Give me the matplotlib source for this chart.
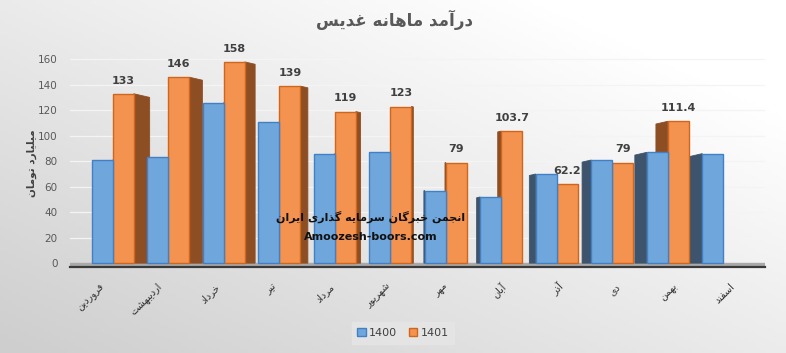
import numpy as np
import matplotlib
matplotlib.use("Agg")
import matplotlib.pyplot as plt
from matplotlib.patches import Polygon

# ---------------- data ----------------
title = "درآمد ماهانه غدیس"
y_label = "میلیارد تومان"
months = ["فروردین", "اردیبهشت", "خرداد", "تیر", "مرداد", "شهریور",
          "مهر", "آبان", "آذر", "دی", "بهمن", "اسفند"]
series_names = ["1400", "1401"]
values_1400 = [81, 83, 126, 111, 86, 87, 57, 52, 70, 81, 87, 86]
values_1401 = [133, 146, 158, 139, 119, 123, 79, 103.7, 62.2, 79, 111.4, np.nan]
labels_1401 = ["133", "146", "158", "139", "119", "123", "79", "103.7", "62.2", "79", "111.4", ""]
watermark_1 = "انجمن خبرگان سرمایه گذاری ایران"
watermark_2 = "Amoozesh-boors.com"
y_ticks = [0, 20, 40, 60, 80, 100, 120, 140, 160]

# ---------------- minimal Arabic/Persian shaping ----------------
FORMS = {
    'ا': (0xFE8D, 0xFE8E, None, None),
    'آ': (0xFE81, 0xFE82, None, None),
    'ب': (0xFE8F, 0xFE90, 0xFE91, 0xFE92),
    'ت': (0xFE95, 0xFE96, 0xFE97, 0xFE98),
    'ج': (0xFE9D, 0xFE9E, 0xFE9F, 0xFEA0),
    'خ': (0xFEA5, 0xFEA6, 0xFEA7, 0xFEA8),
    'د': (0xFEA9, 0xFEAA, None, None),
    'ذ': (0xFEAB, 0xFEAC, None, None),
    'ر': (0xFEAD, 0xFEAE, None, None),
    'ز': (0xFEAF, 0xFEB0, None, None),
    'س': (0xFEB1, 0xFEB2, 0xFEB3, 0xFEB4),
    'ش': (0xFEB5, 0xFEB6, 0xFEB7, 0xFEB8),
    'غ': (0xFECD, 0xFECE, 0xFECF, 0xFED0),
    'ف': (0xFED1, 0xFED2, 0xFED3, 0xFED4),
    'ل': (0xFEDD, 0xFEDE, 0xFEDF, 0xFEE0),
    'م': (0xFEE1, 0xFEE2, 0xFEE3, 0xFEE4),
    'ن': (0xFEE5, 0xFEE6, 0xFEE7, 0xFEE8),
    'ه': (0xFEE9, 0xFEEA, 0xFEEB, 0xFEEC),
    'و': (0xFEED, 0xFEEE, None, None),
    'ی': (0xFBFC, 0xFBFD, 0xFBFE, 0xFBFF),
    'ي': (0xFBFC, 0xFBFD, 0xFBFE, 0xFBFF),
    'گ': (0xFB92, 0xFB93, 0xFB94, 0xFB95),
}


def _dual(c):
    return c in FORMS and FORMS[c][2] is not None


def shape(s):
    out = []
    for k, c in enumerate(s):
        if c not in FORMS:
            out.append(c)
            continue
        prev = s[k - 1] if k > 0 else None
        nxt = s[k + 1] if k + 1 < len(s) else None
        jp = prev is not None and _dual(prev)
        jn = _dual(c) and nxt is not None and nxt in FORMS
        iso, fin, ini, med = FORMS[c]
        if jp and jn:
            cp = med
        elif jp:
            cp = fin
        elif jn:
            cp = ini
        else:
            cp = iso
        out.append(chr(cp))
    return "".join(reversed(out))


# ---------------- figure ----------------
W, H = 786, 353
fig = plt.figure(figsize=(W / 100, H / 100), dpi=100)

# gradient background
bg = fig.add_axes([0, 0, 1, 1], zorder=-5)
gx, gy = np.meshgrid(np.linspace(0, 1, 200), np.linspace(1, 0, 100))
t = np.clip(0.62 * gx + 0.6 * gy - 0.02, 0, 1)
v = 0.81 + 0.19 * t
bg.imshow(np.dstack([v, v, v]), extent=[0, 1, 0, 1], aspect="auto")
bg.set_axis_off()

ax_l, ax_r = 70 / W, 765 / W
ax_b, ax_t = 1 - 267 / H, 1 - 53 / H
ax = fig.add_axes([ax_l, ax_b, ax_r - ax_l, ax_t - ax_b])
ax.patch.set_alpha(0)

x = np.arange(len(months))
w = 0.38
center = 5.7

blue_face, blue_edge, blue_side = "#6fa6dc", "#4280c6", "#3e546c"
orange_face, orange_edge, orange_side = "#f4924f", "#d0651c", "#8e4e24"

ax.set_xlim(-0.77, 11.75)
ax.set_ylim(-3, 165)

# grid
for yt in y_ticks[1:]:
    ax.axhline(yt, color="#f4f4f4", lw=0.9, zorder=0)

# floor
ax.axhspan(-3, 0, color="#a9a9a9", zorder=0.5)
ax.axhline(-3, color="#3a3a3a", lw=1.6, zorder=5, clip_on=False)

# side faces (pseudo-3D)
for i in x:
    d = (i - center) * 0.05
    for xl, h, col in ((i - w, values_1400[i], blue_side), (i, values_1401[i], orange_side)):
        if np.isnan(h):
            continue
        if d < 0:
            xe = xl + w
        else:
            xe = xl
        xo = xe - d
        poly = Polygon([(xe, 0), (xe, h), (xo, h - abs(d) * 10), (xo, 0)],
                       closed=True, facecolor=col, edgecolor=col, lw=0.6, zorder=1)
        ax.add_patch(poly)

ax.bar(x - w / 2, values_1400, w, color=blue_face, edgecolor=blue_edge, lw=1.0,
       zorder=3, label=series_names[0])
ax.bar(x + w / 2, values_1401, w, color=orange_face, edgecolor=orange_edge, lw=1.0,
       zorder=2, label=series_names[1])

# data labels
for i in x:
    if labels_1401[i]:
        ax.annotate(labels_1401[i], (i + w / 2, values_1401[i]), xytext=(0, 9.5),
                    textcoords="offset points", ha="center", va="center",
                    fontsize=8, fontweight="bold", color="#404040", zorder=6)

# axes styling
for sp in ax.spines.values():
    sp.set_visible(False)
ax.set_yticks(y_ticks)
ax.set_yticklabels([str(v) for v in y_ticks], fontsize=7.5, color="#595959")
ax.tick_params(axis="y", length=0, pad=9)
label_pos = -0.175 + 1.032 * x
ax.set_xticks(label_pos)
ax.set_xticklabels([shape(m) for m in months], rotation=45, ha="right",
                   va="center", rotation_mode="anchor", fontsize=7, color="#303030")
ax.tick_params(axis="x", length=0, pad=13)

# y label
fig.text(32 / W, 1 - 163 / H, shape(y_label), rotation=90, ha="center", va="center",
         fontsize=7.5, fontweight="bold", color="#404040")

# title
fig.text(395 / W, 1 - 20 / H, shape(title), ha="center", va="center",
         fontsize=12, fontweight="bold", color="#595959")

# watermark
fig.text(371 / W, 1 - 217 / H, shape(watermark_1), ha="center", va="center",
         fontsize=8, fontweight="bold", color="#111111", zorder=10)
fig.text(371 / W, 1 - 237 / H, watermark_2, ha="center", va="center",
         fontsize=8, fontweight="bold", color="#111111", zorder=10)

# legend
leg = fig.legend(loc="center", bbox_to_anchor=(403 / W, 1 - 333 / H), ncol=2,
                 fontsize=8, frameon=True, facecolor="#e6e6e6", edgecolor="#e6e6e6",
                 handlelength=0.8, handleheight=0.8, handletextpad=0.3,
                 columnspacing=1.0, borderpad=0.5, fancybox=False)
for txt in leg.get_texts():
    txt.set_color("#404040")

fig.savefig("out.png", dpi=100)
